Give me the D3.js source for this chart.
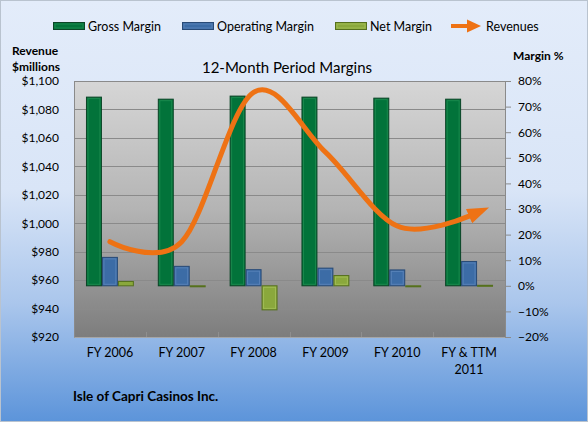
<!DOCTYPE html>
<html lang="en">
<head>
<meta charset="UTF-8">
<title>12-Month Period Margins</title>
<script src="https://cdn.jsdelivr.net/npm/d3@7"></script>
<style>
  body { margin: 0; background: #fff; }
  svg text { font-family: Lato, "Liberation Sans", sans-serif; fill: #000; }
</style>
</head>
<body>
<div class="chart"></div>
<script>
    // data
    let categories = ['FY 2006', 'FY 2007', 'FY 2008', 'FY 2009', 'FY 2010', 'FY & TTM 2011']
    let seriesNames = ['Gross Margin', 'Operating Margin', 'Net Margin']
    let grossMargin = [0.737, 0.729, 0.741, 0.737, 0.733, 0.729]
    let operatingMargin = [0.111, 0.076, 0.063, 0.069, 0.062, 0.095]
    let netMargin = [0.017, -0.002, -0.094, 0.040, -0.003, 0.002]
    let revenues = [987, 987, 1092, 1050, 998, 1005]
    let revenueTicks = [920, 940, 960, 980, 1000, 1020, 1040, 1060, 1080, 1100]
    let marginTicks = [-0.2, -0.1, 0, 0.1, 0.2, 0.3, 0.4, 0.5, 0.6, 0.7, 0.8]

    let W = 588, H = 422
    let pLeft = 74, pRight = 505, pTop = 81, pBottom = 337
    let colors = {'Gross Margin': '#02733a', 'Operating Margin': '#3c6ca6', 'Net Margin': '#8aa83c'}
    let strokes = {'Gross Margin': '#0a4526', 'Operating Margin': '#284a76', 'Net Margin': '#55701d'}
    let lights = {'Gross Margin': '#2e9a5c', 'Operating Margin': '#6d93c6', 'Net Margin': '#b3cc6a'}
    let lineColor = '#ee7214'

    let svg = d3.select('.chart').append('svg').attr('width', W).attr('height', H)
    let defs = svg.append('defs')

    let bg = defs.append('linearGradient').attr('id', 'bg').attr('x1', 0).attr('y1', 0).attr('x2', 0).attr('y2', 1)
    bg.append('stop').attr('offset', '0').attr('stop-color', '#e3ecfa')
    bg.append('stop').attr('offset', '0.45').attr('stop-color', '#d9e5f7')
    bg.append('stop').attr('offset', '0.72').attr('stop-color', '#aac6ec')
    bg.append('stop').attr('offset', '1').attr('stop-color', '#5c94da')

    let pg = defs.append('linearGradient').attr('id', 'plotbg').attr('x1', 0).attr('y1', 0).attr('x2', 0).attr('y2', 1)
    pg.append('stop').attr('offset', '0').attr('stop-color', '#d6d6d6')
    pg.append('stop').attr('offset', '0.5').attr('stop-color', '#b4b4b4')
    pg.append('stop').attr('offset', '1').attr('stop-color', '#7d7d7d')

    defs.append('marker').attr('id', 'arrow').attr('viewBox', '0 0 14 10')
        .attr('refX', 0).attr('refY', 5).attr('markerWidth', 4.4).attr('markerHeight', 3.1)
        .attr('orient', 'auto').attr('markerUnits', 'strokeWidth')
        .append('path').attr('d', 'M0,0 L14,5 L0,10 z').attr('fill', lineColor)

    svg.append('rect').attr('x', 0.5).attr('y', 0.5).attr('width', W - 1).attr('height', H - 1)
        .attr('fill', 'url(#bg)').attr('stroke', '#b9c3cf')

    // scales
    let x0 = d3.scaleBand().domain(categories).range([pLeft, pRight]).paddingInner(1 / 3).paddingOuter(1 / 6)
    let x1 = d3.scaleBand().domain(seriesNames).range([0, x0.bandwidth()])
    let yLeft = d3.scaleLinear().domain([920, 1100]).range([pBottom, pTop])
    let yRight = d3.scaleLinear().domain([-0.2, 0.8]).range([pBottom, pTop])

    // plot area
    svg.append('rect').attr('x', pLeft).attr('y', pTop).attr('width', pRight - pLeft).attr('height', pBottom - pTop)
        .attr('fill', 'url(#plotbg)')

    svg.append('g').selectAll('line').data(revenueTicks.slice(1)).join('line')
        .attr('x1', pLeft).attr('x2', pRight)
        .attr('y1', d => Math.round(yLeft(d)) + 0.5).attr('y2', d => Math.round(yLeft(d)) + 0.5)
        .attr('stroke', '#8a8a8a')

    // category ticks along the bottom
    svg.append('g').selectAll('line').data(categories.slice(1)).join('line')
        .attr('x1', d => Math.round(x0(d) - x0.step() * x0.paddingInner() / 2) + 0.5)
        .attr('x2', d => Math.round(x0(d) - x0.step() * x0.paddingInner() / 2) + 0.5)
        .attr('y1', pBottom - 5).attr('y2', pBottom)
        .attr('stroke', '#8f8f8f')
    svg.append('line').attr('x1', pLeft).attr('x2', pRight).attr('y1', pBottom + 0.5).attr('y2', pBottom + 0.5)
        .attr('stroke', '#a6a6a6')

    // axes
    let leftAxis = svg.append('g').attr('transform', 'translate(' + pLeft + ',0)')
        .call(d3.axisLeft(yLeft).tickValues(revenueTicks).tickSize(0).tickPadding(15)
            .tickFormat(d => '$' + d3.format(',')(d)))
    leftAxis.select('.domain').attr('stroke', '#8a8a8a')
    leftAxis.selectAll('text').attr('font-size', 12).style('font-family', 'Lato, sans-serif')

    let rightAxis = svg.append('g').attr('transform', 'translate(' + pRight + ',0)')
        .call(d3.axisRight(yRight).tickValues(marginTicks).tickSize(6).tickPadding(7)
            .tickFormat(d3.format('.0%')))
    rightAxis.select('.domain').attr('stroke', '#8a8a8a')
    rightAxis.selectAll('.tick line').attr('stroke', '#8a8a8a')
    rightAxis.selectAll('text').attr('font-size', 12).style('font-family', 'Lato, sans-serif')

    // bars
    let values = {'Gross Margin': grossMargin, 'Operating Margin': operatingMargin, 'Net Margin': netMargin}
    let barData = []
    categories.forEach((c, i) => seriesNames.forEach(s => barData.push({cat: c, s: s, v: values[s][i]})))
    let bars = svg.append('g').selectAll('g').data(barData).join('g')
    bars.append('rect')
        .attr('x', d => x0(d.cat) + x1(d.s) + 0.5)
        .attr('width', x1.bandwidth() - 1)
        .attr('y', d => Math.min(yRight(d.v), yRight(0)))
        .attr('height', d => Math.max(1, Math.abs(yRight(d.v) - yRight(0))))
        .attr('fill', d => colors[d.s])
        .attr('stroke', d => strokes[d.s])
        .attr('stroke-width', 1)
    // bevel highlight
    bars.filter(d => Math.abs(yRight(d.v) - yRight(0)) > 5).append('rect')
        .attr('x', d => x0(d.cat) + x1(d.s) + 2)
        .attr('width', x1.bandwidth() - 4)
        .attr('y', d => Math.min(yRight(d.v), yRight(0)) + 1.5)
        .attr('height', d => Math.abs(yRight(d.v) - yRight(0)) - 3)
        .attr('fill', 'none')
        .attr('stroke', d => lights[d.s])
        .attr('stroke-opacity', 0.55)

    // revenue line
    let line = d3.line()
        .x((d, i) => x0(categories[i]) + x0.bandwidth() / 2)
        .y(d => yLeft(d))
        .curve(d3.curveCatmullRom.alpha(0))
    svg.append('path').datum(revenues).attr('d', line)
        .attr('fill', 'none').attr('stroke', lineColor).attr('stroke-width', 5)
        .attr('stroke-linecap', 'round').attr('marker-end', 'url(#arrow)')

    // titles
    svg.append('text').attr('x', 287).attr('y', 73).attr('text-anchor', 'middle')
        .attr('font-size', 15).text('12-Month Period Margins')
    svg.append('text').attr('x', 12).attr('y', 55).attr('font-size', 12).attr('font-weight', 'bold').text('Revenue')
    svg.append('text').attr('x', 12).attr('y', 71).attr('font-size', 12).attr('font-weight', 'bold').text('$millions')
    svg.append('text').attr('x', 513).attr('y', 60).attr('font-size', 12).attr('font-weight', 'bold').text('Margin %')
    svg.append('text').attr('x', 73).attr('y', 401).attr('font-size', 13.5).attr('font-weight', 'bold')
        .text('Isle of Capri Casinos Inc.')

    // x labels
    let xl = svg.append('g').selectAll('text').data(categories).join('text')
        .attr('x', d => x0(d) + x0.bandwidth() / 2).attr('y', 357)
        .attr('text-anchor', 'middle').attr('font-size', 12.5)
    xl.each(function (d) {
        let t = d3.select(this)
        let parts = d === 'FY & TTM 2011' ? ['FY & TTM', '2011'] : [d]
        parts.forEach((p, k) => t.append('tspan').attr('x', t.attr('x')).attr('dy', k ? 17 : 0).text(p))
    })

    // legend (swatch left edges)
    let legendX = [53, 182, 335, 451]
    seriesNames.concat(['Revenues']).forEach((s, i) => {
        let g = svg.append('g').attr('transform', 'translate(' + legendX[i] + ',26)')
        if (s === 'Revenues') {
            g.append('line').attr('x1', 0).attr('x2', 18).attr('y1', 0).attr('y2', 0)
                .attr('stroke', lineColor).attr('stroke-width', 4)
            g.append('path').attr('d', 'M16,-6.5 L30,0 L16,6.5 z').attr('fill', lineColor)
        } else {
            g.append('rect').attr('x', 0.5).attr('y', -3.5).attr('width', 31).attr('height', 7)
                .attr('fill', colors[s]).attr('stroke', strokes[s])
            g.append('rect').attr('x', 2).attr('y', -2).attr('width', 28).attr('height', 4)
                .attr('fill', 'none').attr('stroke', lights[s]).attr('stroke-opacity', 0.55)
        }
        g.append('text').attr('x', 35).attr('y', 4.5).attr('font-size', 12.5).text(s)
    })
</script>
</body>
</html>
